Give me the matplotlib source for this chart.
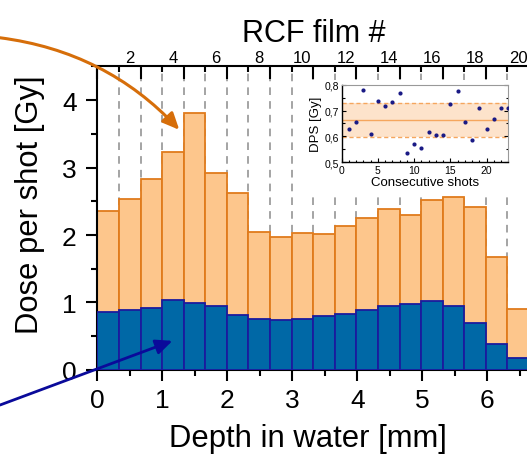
import numpy as np
import matplotlib.pyplot as plt
from matplotlib.patches import Rectangle
from matplotlib.ticker import MultipleLocator, FixedLocator, FuncFormatter, NullFormatter

plt.rcParams['font.family'] = ['Liberation Sans', 'DejaVu Sans']

# water-equivalent thickness of one RCF layer [mm]
film_width = 0.332

# dose per shot in each RCF layer: total and the part shown in blue
dose_total = [2.36, 2.54, 2.83, 3.23, 3.81, 2.92, 2.63, 2.04, 1.97, 2.03,
              2.02, 2.14, 2.25, 2.39, 2.29, 2.52, 2.57, 2.41, 1.68, 0.90]
dose_part = [0.86, 0.89, 0.92, 1.04, 0.99, 0.94, 0.81, 0.755, 0.745, 0.76,
             0.80, 0.835, 0.885, 0.94, 0.98, 1.02, 0.945, 0.69, 0.39, 0.17]
film_labels = [2, 4, 6, 8, 10, 12, 14, 16, 18, 20]

# dose per shot over consecutive shots (inset)
shot_no = list(range(1, 24))
dps = [0.629, 0.657, 0.781, 0.608, 0.738, 0.716, 0.732, 0.767, 0.536, 0.572,
       0.557, 0.616, 0.607, 0.607, 0.724, 0.774, 0.657, 0.586, 0.709, 0.629,
       0.667, 0.709, 0.709]
dps_mean = 0.665
dps_spread = 0.066

c_fill_or = '#FDC68C'
c_edge_or = '#E07B1C'
c_fill_bl = '#0068A6'
c_edge_bl = '#1B1B9E'

n_films = len(dose_total)
left = np.arange(n_films) * film_width
edges = np.arange(n_films + 1) * film_width

fig = plt.figure(figsize=(5.27, 4.56), dpi=100)
ax = fig.add_axes([0.1848, 0.1868, 0.8264, 0.6652])
ax.set_xlim(0, 6.7)
ax.set_ylim(0, 4.5)

# dashed separators between films
ax.vlines(edges[1:], 0, 4.5, colors='#8C8C8C', linestyles=(0, (5, 4)),
          linewidth=1.1, zorder=1)
ax.bar(left, dose_total, width=film_width, align='edge', color=c_fill_or,
       edgecolor=c_edge_or, linewidth=1.3, zorder=2)
ax.bar(left, dose_part, width=film_width, align='edge', color=c_fill_bl,
       edgecolor=c_edge_bl, linewidth=1.3, zorder=3)

ax.xaxis.set_major_locator(MultipleLocator(1))
ax.xaxis.set_minor_locator(MultipleLocator(0.5))
ax.yaxis.set_major_locator(MultipleLocator(1))
ax.yaxis.set_minor_locator(MultipleLocator(0.5))
ax.tick_params(which='major', length=8, width=1.5, direction='out', labelsize=19)
ax.tick_params(which='minor', length=4, width=1.5, direction='out')
ax.tick_params(axis='x', which='both', pad=5, top=False)
ax.tick_params(axis='y', which='both', pad=7, right=False)
for s in ['left', 'bottom', 'top']:
    ax.spines[s].set_linewidth(1.5)
ax.spines['right'].set_visible(False)
ax.set_xlabel('Depth in water [mm]', fontsize=22.3)
ax.set_ylabel('Dose per shot [Gy]', fontsize=22.3)
ax.xaxis.set_label_coords(0.483, -0.175)
ax.yaxis.set_label_coords(-0.12, 0.547)

# film numbers on top, labels centred on each film
ax_lab = ax.twiny()
ax_lab.set_xlim(ax.get_xlim())
ax_lab.xaxis.set_major_locator(FixedLocator((np.array(film_labels) - 0.5) * film_width))
ax_lab.set_xticklabels([str(n) for n in film_labels])
ax_lab.tick_params(axis='x', length=0, labelsize=12, pad=1)
ax_lab.set_xlabel('RCF film #', fontsize=22)
ax_lab.xaxis.set_label_coords(0.497, 1.084)
for s in ax_lab.spines.values():
    s.set_visible(False)

# tick marks on film boundaries
ax_tk = ax.twiny()
ax_tk.set_xlim(ax.get_xlim())
ax_tk.xaxis.set_major_locator(FixedLocator(edges[::2]))
ax_tk.xaxis.set_minor_locator(FixedLocator(edges[1::2]))
ax_tk.xaxis.set_major_formatter(NullFormatter())
ax_tk.tick_params(axis='x', which='major', direction='in', length=9, width=1.5)
ax_tk.tick_params(axis='x', which='minor', direction='in', length=4.5, width=1.5)
for s in ax_tk.spines.values():
    s.set_visible(False)

# arrows pointing into the two dose components
ax_tk.annotate('', xy=(1.26, 3.56), xycoords=ax.transData,
               xytext=(0.0, 0.915), textcoords='figure fraction',
               arrowprops=dict(arrowstyle='-|>,head_length=1.0,head_width=0.45',
                               color='#D66E0A', lw=2.2, shrinkA=0, shrinkB=0,
                               connectionstyle='arc3,rad=-0.18'),
               annotation_clip=False)
ax_tk.annotate('', xy=(1.155, 0.43), xycoords=ax.transData,
               xytext=(0.0, 0.1096), textcoords='figure fraction',
               arrowprops=dict(arrowstyle='-|>,head_length=1.0,head_width=0.45',
                               color='#0A0A9A', lw=2.0, shrinkA=0, shrinkB=0),
               annotation_clip=False)

# white backing for the inset and its labels
fig.add_artist(Rectangle((0.569, 0.577), 0.403, 0.246, transform=fig.transFigure,
                         facecolor='white', edgecolor='none', zorder=2.5))

ins = fig.add_axes([0.6484, 0.6419, 0.3161, 0.1702], zorder=3)
ins.axhspan(dps_mean - dps_spread, dps_mean + dps_spread, color='#FDE3CB',
            lw=0, zorder=0)
for yv in (dps_mean - dps_spread, dps_mean + dps_spread):
    ins.axhline(yv, color='#F5A65E', lw=1.0, ls=(0, (3, 2)), zorder=1)
ins.axhline(dps_mean, color='#F5A65E', lw=1.0, zorder=1)
ins.scatter(shot_no, dps, s=9, color='#1A1A85', zorder=3, linewidths=0)
ins.set_xlim(0, 23)
ins.set_ylim(0.5, 0.8)
ins.xaxis.set_major_locator(MultipleLocator(5))
ins.xaxis.set_minor_locator(MultipleLocator(1))
ins.yaxis.set_major_locator(MultipleLocator(0.1))
ins.yaxis.set_minor_locator(MultipleLocator(0.05))
ins.yaxis.set_major_formatter(FuncFormatter(lambda v, _: f'{v:.1f}'.replace('.', ',')))
ins.tick_params(which='major', direction='in', length=3, width=0.8,
                labelsize=7.5, pad=2, right=True)
ins.tick_params(which='minor', direction='in', length=1.8, width=0.8, right=True)
for s in ['left', 'bottom']:
    ins.spines[s].set_linewidth(1.0)
for s in ['top', 'right']:
    ins.spines[s].set_color('#999999')
    ins.spines[s].set_linewidth(0.8)
ins.set_xlabel('Consecutive shots', fontsize=9.5, labelpad=1)
ins.set_ylabel('DPS [Gy]', fontsize=9.5, labelpad=2)

fig.savefig('out.png', dpi=100)
